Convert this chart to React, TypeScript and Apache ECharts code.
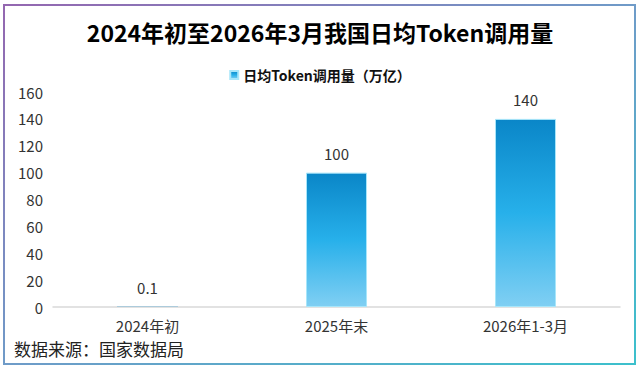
import React, { useEffect, useRef } from "react";
import * as echarts from "echarts";

const categories = ["2024年初", "2025年末", "2026年1-3月"];
const values = [0.1, 100, 140];
const seriesName = "日均Token调用量（万亿）";
const titleText = "2024年初至2026年3月我国日均Token调用量";
const sourceText = "数据来源：国家数据局";

const FONT = "'Noto Sans CJK SC', 'Microsoft YaHei', sans-serif";

export default function App() {
  const ref = useRef<HTMLDivElement>(null);
  useEffect(() => {
    document.body.style.margin = "0";
    const chart = echarts.init(ref.current!, null, { renderer: "svg" });
    chart.setOption({
      animation: false,
      backgroundColor: "#ffffff",
      title: {
        text: titleText,
        left: "center",
        top: 15,
        textStyle: { fontFamily: FONT, fontSize: 23, fontWeight: "bold", color: "#000" },
      },
      legend: {
        top: 63,
        left: "center",
        itemWidth: 8,
        itemHeight: 8,
        icon: "rect",
        itemGap: 8,
        textStyle: { fontFamily: FONT, fontSize: 14, fontWeight: "bold", color: "#111" },
        data: [seriesName],
      },
      grid: { left: 53, right: 20, top: 92, bottom: 62, containLabel: false },
      xAxis: {
        type: "category",
        data: categories,
        axisLine: { lineStyle: { color: "#d9d9d9", width: 1.5 } },
        axisTick: { show: false },
        axisLabel: { fontFamily: FONT, fontSize: 15, color: "#333", margin: 11 },
      },
      yAxis: {
        type: "value",
        min: 0,
        max: 160,
        interval: 20,
        splitLine: { show: false },
        axisLine: { show: false },
        axisTick: { show: false },
        axisLabel: { fontFamily: FONT, fontSize: 15, color: "#333", margin: 10 },
      },
      series: [
        {
          name: seriesName,
          type: "bar",
          data: values.map((v) => (v < 1 ? { value: v, itemStyle: { borderWidth: 0 } } : v)),
          barWidth: 61,
          itemStyle: {
            borderColor: "#a8e6fa",
            borderWidth: 1,
            color: new echarts.graphic.LinearGradient(0, 0, 0, 1, [
              { offset: 0, color: "#0a86c8" },
              { offset: 0.5, color: "#27b0ea" },
              { offset: 1, color: "#80cff3" },
            ]),
          },
          label: {
            show: true,
            position: "top",
            distance: 12,
            fontFamily: FONT,
            fontSize: 15,
            color: "#333",
          },
        },
      ],
      graphic: [
        {
          type: "rect",
          shape: { x: 4, y: 5, width: 631, height: 359 },
          style: {
            fill: "none",
            lineWidth: 2,
            stroke: new echarts.graphic.LinearGradient(0, 0, 1, 1, [
              { offset: 0, color: "#9467b0" },
              { offset: 0.5, color: "#6f9bc8" },
              { offset: 1, color: "#3cc0cc" },
            ]),
          },
          silent: true,
        },
        {
          type: "text",
          left: 14,
          top: 340,
          style: { text: sourceText, fontFamily: FONT, fontSize: 17, fill: "#222" },
        },
      ],
    });
    return () => chart.dispose();
  }, []);
  return <div ref={ref} style={{ width: 640, height: 369 }} />;
}
